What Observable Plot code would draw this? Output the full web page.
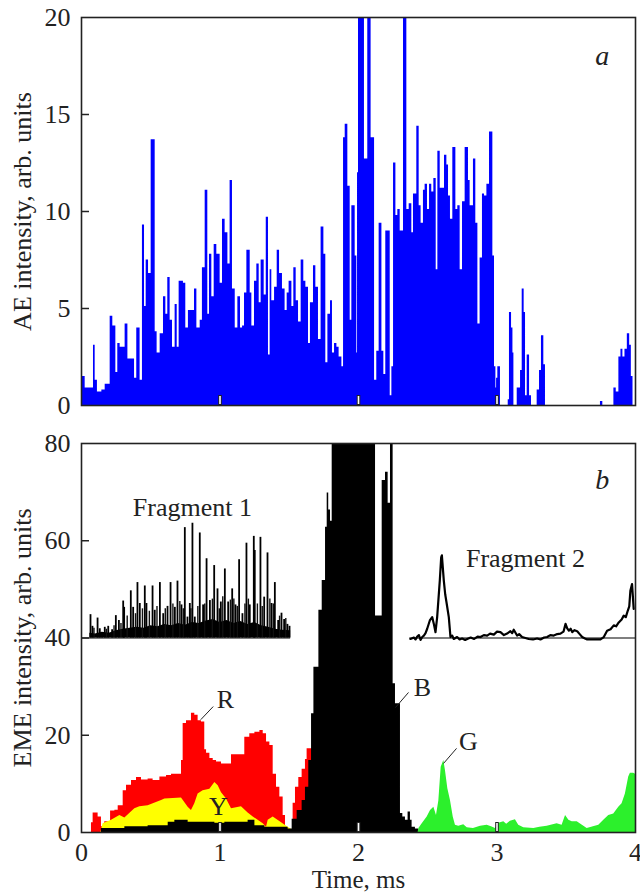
<!DOCTYPE html>
<html><head><meta charset="utf-8">
<script src="https://cdn.jsdelivr.net/npm/d3@7"></script>
<script src="https://cdn.jsdelivr.net/npm/@observablehq/plot@0.6"></script>
<style>
body{margin:0;background:#fff;}
#chart{width:640px;}
#chart svg, #chart svg text{font-family:"Liberation Serif","Times New Roman",serif !important;}
</style>
</head><body><div id="chart"></div>
<script>
// ---------- Panel a: AE intensity (step bars) ----------
const aeTime = [0.005,0.0265,0.0866,0.0987,0.115,0.147,0.171,0.207,0.226,0.248,0.262,0.279,0.315,0.335,0.383,0.399,0.423,0.440,0.455,0.467,0.484,0.503,0.532,0.546,0.568,0.592,0.609,0.623,0.640,0.657,0.676,0.691,0.705,0.736,0.753,0.772,0.816,0.833,0.857,0.873,0.893,0.912,0.924,0.941,0.958,0.977,1.001,1.018,1.037,1.057,1.073,1.090,1.110,1.129,1.148,1.163,1.177,1.194,1.218,1.230,1.249,1.266,1.283,1.297,1.319,1.334,1.350,1.362,1.374,1.394,1.413,1.430,1.451,1.470,1.485,1.499,1.519,1.533,1.550,1.567,1.586,1.605,1.620,1.639,1.653,1.675,1.692,1.711,1.730,1.750,1.764,1.779,1.798,1.812,1.827,1.844,1.860,1.880,1.892,1.904,1.923,1.940,1.952,1.976,1.988,1.993,2.000,2.043,2.067,2.091,2.116,2.132,2.149,2.169,2.183,2.197,2.229,2.241,2.253,2.270,2.284,2.301,2.325,2.349,2.366,2.385,2.397,2.421,2.438,2.452,2.469,2.481,2.498,2.513,2.529,2.544,2.561,2.573,2.590,2.621,2.638,2.650,2.664,2.681,2.703,2.717,2.734,2.751,2.770,2.794,2.806,2.830,2.847,2.862,2.878,2.895,2.910,2.927,2.946,2.970,2.982,2.992,2.997,3.006,3.025,3.081,3.090,3.105,3.115,3.122,3.146,3.170,3.182,3.196,3.206,3.218,3.235,3.249,3.290,3.307,3.321,3.338,3.350,3.747,3.764,3.844,3.861,3.880,3.895,3.909,3.924,3.941,3.958,3.970,3.982,4.0];
const aeValue = [1.5,0.9,3.1,1.3,0.7,0.8,1.1,4.6,4.1,1.7,3.2,3.0,4.2,2.4,1.4,4.0,1.3,9.3,5.1,7.5,6.8,13.7,3.8,2.7,3.7,5.6,4.7,6.6,4.4,3.0,5.2,3.0,6.4,6.3,4.0,4.9,6.0,4.0,4.4,7.1,11.1,4.7,7.8,5.6,8.3,7.8,6.3,9.6,8.9,7.3,11.6,6.0,4.0,5.6,4.0,4.1,5.8,8.0,5.8,4.1,6.4,7.3,5.3,7.5,5.7,9.7,2.6,7.0,5.4,6.1,8.0,6.8,6.0,4.9,5.8,6.4,5.1,7.1,5.4,4.3,7.5,6.4,6.1,3.2,5.3,7.2,6.1,3.4,9.2,7.8,2.2,4.7,5.4,2.7,3.2,3.0,2.5,2.0,13.8,14.5,11.3,4.4,10.3,7.7,2.7,12.0,25,12.7,25,13.8,1.3,2.8,9.4,2.8,1.6,9.0,0.5,2.0,12.5,9.8,10.1,9.0,25,10.1,10.4,8.9,10.9,14.4,10.3,9.4,11.1,11.4,10.1,11.4,11.0,11.7,7.0,13.1,11.2,12.9,12.4,10.8,9.6,13.3,10.1,10.3,7.0,10.5,13.3,11.6,10.3,12.7,9.4,4.2,7.6,10.9,10.8,11.4,14.1,7.7,2.0,0.9,1.4,2.0,0,0.3,4.8,4.0,2.7,0,0.9,1.8,6.0,4.8,0.5,2.6,0.5,0,0.8,1.8,3.6,2.1,0,0.2,0,0.9,0.7,2.5,2.9,2.5,2.9,3.7,3.1,1.5,0,0];
const aeTicks = [0,5,10,15,20];
const aeInnerTicks = [5,10,15];

// ---------- Panel b: EME intensity ----------
const redTime = [0.072,0.084,0.120,0.144,0.168,0.210,0.241,0.265,0.301,0.325,0.361,0.397,0.433,0.481,0.517,0.566,0.614,0.650,0.722,0.734,0.758,0.794,0.818,0.842,0.866,0.890,0.903,0.927,0.951,0.975,1.011,1.083,1.179,1.215,1.252,1.288,1.312,1.336,1.360,1.384,1.408,1.432,1.456,1.473,1.528,1.545,1.569,1.593,1.617,1.629,1.661,1.680];
const redValue = [2.0,4.0,3.2,1.2,2.2,4.4,4.6,5.5,8.6,9.7,10.7,11.3,10.8,11.0,10.7,11.4,11.7,12.0,14.8,22.4,23.0,24.5,24.1,23.0,22.7,17.0,16.3,15.2,14.8,14.5,14.1,16.0,19.6,20.3,20.6,21.0,20.3,18.6,17.9,12.0,9.3,7.3,3.5,0,6.0,9.3,11.3,13.0,15.0,17.2,17.2,0];

const yellowTime = [0.140,0.156,0.217,0.277,0.313,0.385,0.421,0.481,0.578,0.602,0.722,0.770,0.794,0.818,0.842,0.878,0.927,0.963,0.987,1.011,1.047,1.083,1.155,1.203,1.240,1.312,1.336,1.348,1.384,1.492,1.552];
const yellowValue = [0,1.8,2.5,3.5,3.0,4.9,5.3,5.5,6.6,6.9,7.1,5.2,4.5,5.9,7.9,8.6,8.9,10.3,9.6,8.2,6.9,4.9,5.3,4.0,3.2,1.8,1.1,2.5,3.2,1.1,0];

const blackTime = [0.144,0.313,0.481,0.626,0.674,0.770,0.963,1.035,1.203,1.252,1.324,1.492,1.521,1.557,1.593,1.617,1.641,1.661,1.678,1.714,1.738,1.762,1.774,1.785,1.798,1.810,2.123,2.171,2.195,2.214,2.231,2.250,2.267,2.303,2.320,2.339,2.358,2.375,2.387,2.411,2.435];
const blackValue = [0.8,1.2,1.4,2.1,2.5,2.1,1.9,2.1,2.5,1.4,1.1,0.7,2.7,4.5,6.6,9.3,14.8,24.4,34.0,45.7,51.8,62.8,69.8,66.3,64.0,95,44.5,72.4,74.1,67.7,95,30.6,26.5,3.9,3.2,2.5,4.2,2.5,1.1,0.7,0];

const greenTime = [2.430,2.436,2.460,2.496,2.520,2.544,2.563,2.580,2.597,2.616,2.628,2.645,2.664,2.684,2.700,2.724,2.760,2.785,2.830,2.881,2.929,2.960,2.989,3.013,3.049,3.070,3.097,3.133,3.157,3.193,3.266,3.310,3.362,3.434,3.470,3.495,3.519,3.543,3.579,3.627,3.651,3.735,3.771,3.807,3.843,3.879,3.903,3.927,3.951,3.963,3.987,4.0];
const greenValue = [0,0.8,1.8,3.2,4.5,5.2,3.5,6.5,13.4,14.8,12.7,9.0,6.6,3.2,1.5,1.3,1.6,1.0,0.8,1.3,1.5,1.2,0.8,1.9,2.2,1.7,2.3,2.6,1.5,1.0,0.8,1.1,1.3,1.8,1.5,3.5,2.5,2.2,2.2,1.3,0.8,1.5,2.5,3.5,3.8,5.2,5.9,7.9,11.4,12.2,12.2,12.0];

// Fragment 1 (inset, offset to 40)
const frag1Base = {start: 0, end: 1.51, level: 40};
const frag1FloorTime = [0.06,0.10,0.15,0.20,0.25,0.30,0.35,0.40,0.45,0.50,0.55,0.60,0.65,0.70,0.75,0.80,0.85,0.90,0.95,1.00,1.05,1.10,1.15,1.20,1.25,1.30,1.35,1.40,1.45,1.51];
const frag1FloorValue = [41.0,40.8,41.2,41.0,41.5,41.8,42.0,42.2,42.0,42.5,42.3,42.8,42.5,43.0,42.6,43.2,43.0,43.5,43.8,43.2,43.6,43.0,43.4,42.8,43.2,42.5,42.2,41.8,41.6,41.5];
const frag1SpikeTime = [0.065,0.079,0.116,0.132,0.149,0.168,0.193,0.221,0.248,0.270,0.301,0.308,0.356,0.373,0.404,0.421,0.457,0.469,0.513,0.529,0.566,0.590,0.621,0.643,0.674,0.693,0.722,0.746,0.765,0.782,0.801,0.818,0.854,0.878,0.903,0.927,0.958,0.982,1.006,1.035,1.059,1.088,1.112,1.138,1.162,1.191,1.215,1.244,1.251,1.292,1.319,1.343,1.372,1.396,1.420,1.444,1.463,1.487,1.502];
const frag1SpikeValue = [44.8,42.4,44.1,41.9,41.0,42.2,42.4,41.7,44.6,43.6,47.6,46.3,49.7,46.3,51.4,47.1,50.7,47.1,50.7,45.7,51.4,45.0,46.5,51.4,46.3,51.7,46.8,62.7,44.3,47.1,63.6,44.3,61.6,46.8,56.3,47.7,54.9,50.1,47.4,54.2,47.4,50.1,46.8,56.1,45.0,59.5,46.8,60.9,58.0,60.7,48.4,57.5,47.1,51.4,43.6,45.1,43.8,42.8,42.4];
const frag1MinorTime = [0.09,0.18,0.235,0.285,0.33,0.39,0.44,0.49,0.545,0.605,0.66,0.71,0.735,0.79,0.84,0.89,0.945,0.995,1.02,1.075,1.10,1.125,1.18,1.205,1.27,1.305,1.36,1.385,1.43,1.475];
const frag1MinorValue = [42.0,41.8,42.5,43.0,44.5,45.0,46.0,45.5,46.5,46.0,47.0,47.5,46.0,46.0,46.5,47.0,48.0,46.0,48.5,47.8,48.0,46.5,47.0,48.0,47.0,46.5,48.0,47.0,44.5,44.0];

// Fragment 2 (inset, offset to 40)
const frag2Base = {start: 2.37, end: 4.0, level: 40};
const frag2Time = [2.375,2.400,2.412,2.424,2.436,2.448,2.460,2.472,2.484,2.496,2.515,2.532,2.544,2.556,2.568,2.587,2.597,2.602,2.606,2.616,2.626,2.635,2.652,2.664,2.676,2.688,2.700,2.712,2.730,2.748,2.770,2.785,2.810,2.835,2.860,2.881,2.905,2.929,2.950,2.977,3.000,3.025,3.050,3.073,3.097,3.110,3.121,3.145,3.160,3.181,3.205,3.229,3.260,3.290,3.314,3.340,3.362,3.385,3.410,3.435,3.458,3.480,3.495,3.507,3.519,3.532,3.543,3.560,3.579,3.597,3.615,3.635,3.651,3.700,3.747,3.771,3.795,3.820,3.843,3.860,3.879,3.900,3.915,3.930,3.944,3.955,3.963,3.975,3.987];
const frag2Value = [39.8,40.1,39.7,40.3,40.6,39.6,40.2,40.5,41.0,41.9,43.6,44.3,42.9,41.2,44.3,51.8,56.6,57.0,55.5,51.8,49.0,47.4,44.3,40.2,40.5,39.8,40.0,40.2,39.7,39.9,39.6,39.8,40.1,39.8,40.3,40.2,40.6,40.5,40.9,40.7,41.3,41.2,40.6,40.9,41.4,41.0,41.7,40.5,40.8,40.2,40.0,39.8,39.7,39.9,39.7,40.1,40.2,40.6,40.5,40.8,40.9,41.3,42.9,42.0,41.5,41.9,41.2,41.6,41.4,40.8,40.2,39.9,39.7,39.7,39.7,40.2,41.5,41.8,42.6,42.4,43.2,43.8,44.6,44.3,45.6,46.5,49.7,51.1,46.0];

const emeTicks = [0,20,40,60,80];
const emeInnerTicks = [20,40,60];
const timeTicks = [0,1,2,3,4];
const timeInnerTicks = [1,2,3];

const seriesLabels = [
  {t: 1.040, v: 27.3, text: "R"},
  {t: 0.989, v: 5.3, text: "Y"},
  {t: 2.462, v: 29.8, text: "B"},
  {t: 2.794, v: 18.6, text: "G"},
  {t: 0.801, v: 66.8, text: "Fragment 1"},
  {t: 3.206, v: 56.3, text: "Fragment 2"}
];
const leaders = [
  {t1: 0.951, v1: 25.9, t2: 0.861, v2: 23.2},
  {t1: 2.361, v1: 28.8, t2: 2.267, v2: 25.7},
  {t1: 2.708, v1: 17.3, t2: 2.614, v2: 14.2}
];
const panelLetters = {a: {t: 3.76, v: 18.0}, b: {t: 3.76, v: 72.4}};

// ---------- helpers ----------
const zip = (ts, vs) => ts.map((t, i) => ({t, v: vs[i]}));
const FONT = "'Liberation Serif', 'Times New Roman', serif";
const INK = "#222";
const W = 640, ML = 81, MR = 5;
const frameW = W - ML - MR;
const fmt = d3.format("d");

function innerY(values) {
  return Plot.tickY(values, {y: d => d, stroke: INK, strokeWidth: 1.5, insetRight: frameW - 8});
}
function innerX(values, frameH) {
  return [
    Plot.tickX(values, {x: d => d, stroke: INK, strokeWidth: 3.6, insetTop: frameH - 10}),
    Plot.tickX(values, {x: d => d, stroke: "white", strokeWidth: 1.6, insetTop: frameH - 9, insetBottom: 1})
  ];
}
const baseStyle = {fontFamily: FONT, fontSize: "26px", color: INK, background: "white", display: "block", overflow: "visible"};

// ---------- top plot ----------
const topH = 425, topMT = 17, topMB = 20;
const topPlot = Plot.plot({
  width: W, height: topH, marginTop: topMT, marginBottom: topMB, marginLeft: ML, marginRight: MR,
  style: baseStyle,
  x: {domain: [0, 4], axis: null},
  y: {domain: [0, 20], axis: null},
  marks: [
    Plot.areaY(zip(aeTime, aeValue), {x: "t", y: "v", curve: "step-after", fill: "#0000ff", clip: true}),
    innerY(aeInnerTicks),
    ...innerX(timeInnerTicks, topH - topMT - topMB),
    Plot.frame({stroke: INK, strokeWidth: 1.6}),
    Plot.axisY({ticks: aeTicks, tickFormat: fmt, tickSize: 0, tickPadding: 11, label: null, fontSize: 26}),
    Plot.text(["AE intensity, arb. units"], {frameAnchor: "left", text: d => d, rotate: -90, dx: -59, fontSize: 26, textAnchor: "middle", lineAnchor: "middle"}),
    Plot.text([panelLetters.a], {x: "t", y: "v", text: () => "a", fontStyle: "italic", fontSize: 28})
  ]
});

// ---------- bottom plot ----------
const botH = 467, botMT = 18, botMB = 60;
const bottomPlot = Plot.plot({
  width: W, height: botH, marginTop: botMT, marginBottom: botMB, marginLeft: ML, marginRight: MR,
  style: baseStyle,
  x: {domain: [0, 4], axis: null},
  y: {domain: [0, 80], axis: null},
  marks: [
    Plot.areaY(zip(redTime, redValue), {x: "t", y: "v", curve: "step-after", fill: "#ff0000"}),
    Plot.areaY(zip(yellowTime, yellowValue), {x: "t", y: "v", curve: "linear", fill: "#ffff00"}),
    Plot.areaY(zip(blackTime, blackValue), {x: "t", y: "v", curve: "step-after", fill: "#000", clip: true}),
    Plot.areaY(zip(greenTime, greenValue), {x: "t", y: "v", curve: "linear", fill: "#2cf02c"}),
    // Fragment 1
    Plot.ruleY([frag1Base], {x1: "start", x2: "end", y: "level", stroke: "#000", strokeWidth: 1.2}),
    Plot.areaY(zip(frag1FloorTime, frag1FloorValue), {x: "t", y1: frag1Base.level, y2: "v", fill: "#000"}),
    Plot.ruleX(zip(frag1MinorTime, frag1MinorValue), {x: "t", y1: frag1Base.level, y2: "v", stroke: "#111", strokeWidth: 1.4}),
    Plot.ruleX(zip(frag1SpikeTime, frag1SpikeValue), {x: "t", y1: frag1Base.level, y2: "v", stroke: "#000", strokeWidth: 1.8}),
    // Fragment 2
    Plot.ruleY([frag2Base], {x1: "start", x2: "end", y: "level", stroke: "#000", strokeWidth: 1.2}),
    Plot.line(zip(frag2Time, frag2Value), {x: "t", y: "v", stroke: "#000", strokeWidth: 2.2}),
    // annotations
    Plot.link(leaders, {x1: "t1", y1: "v1", x2: "t2", y2: "v2", stroke: INK, strokeWidth: 1}),
    Plot.text(seriesLabels, {x: "t", y: "v", text: "text", fontSize: 26, fill: INK}),
    innerY(emeInnerTicks),
    ...innerX(timeInnerTicks, botH - botMT - botMB),
    Plot.frame({stroke: INK, strokeWidth: 1.6}),
    Plot.axisY({ticks: emeTicks, tickFormat: fmt, tickSize: 0, tickPadding: 11, label: null, fontSize: 26}),
    Plot.axisX({ticks: timeTicks, tickFormat: fmt, tickSize: 0, tickPadding: 10, label: null, fontSize: 26}),
    Plot.text(["EME intensity, arb. units"], {frameAnchor: "left", text: d => d, rotate: -90, dx: -59, fontSize: 26, textAnchor: "middle", lineAnchor: "middle"}),
    Plot.text(["Time, ms"], {frameAnchor: "bottom", text: d => d, textAnchor: "middle", lineAnchor: "middle", dy: 47, fontSize: 25}),
    Plot.text([panelLetters.b], {x: "t", y: "v", text: () => "b", fontStyle: "italic", fontSize: 28})
  ]
});

const chart = document.getElementById("chart");
chart.appendChild(topPlot);
chart.appendChild(bottomPlot);
</script></body></html>
